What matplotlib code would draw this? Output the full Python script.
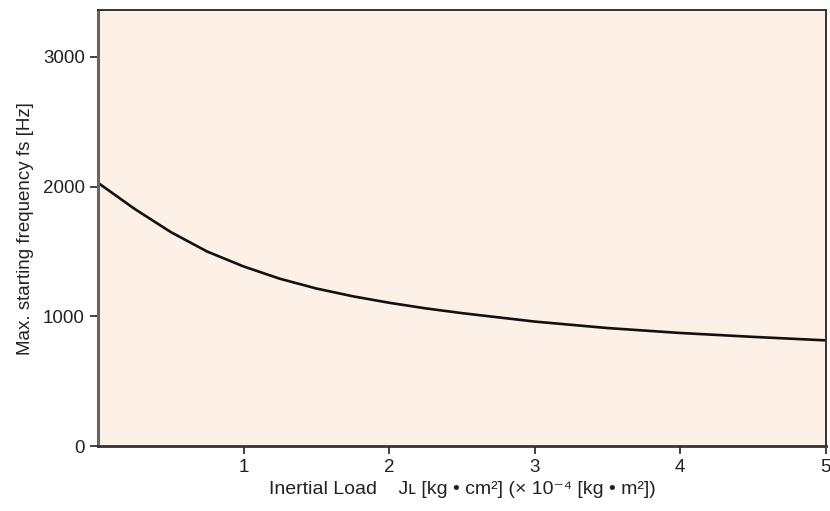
import matplotlib.pyplot as plt
from matplotlib import font_manager

# inertial load [kg cm2] vs max starting frequency [Hz]
load = [0, 0.25, 0.5, 0.75, 1.0, 1.25, 1.5, 1.75, 2.0, 2.25, 2.5, 3.0, 3.5, 4.0, 4.5, 5.0]
freq = [2030, 1830, 1650, 1500, 1385, 1290, 1215, 1155, 1105, 1062, 1025, 960, 910, 872, 842, 815]

xticks = [1, 2, 3, 4, 5]
yticks = [0, 1000, 2000, 3000]

names = set(f.name for f in font_manager.fontManager.ttflist)
main_font = 'Liberation Sans Narrow' if 'Liberation Sans Narrow' in names else 'Liberation Sans'
plt.rcParams['font.family'] = [main_font, 'DejaVu Sans']

fig = plt.figure(figsize=(8.3, 5.11), dpi=100)
ax = fig.add_axes([0.118, 0.127, 0.877, 0.853])
ax.set_facecolor('#fdf0e6')

ax.plot(load, freq, color='#111111', linewidth=1.9, solid_joinstyle='round')

ax.set_xlim(0, 5)
ax.set_ylim(0, 3360)
ax.set_xticks(xticks)
ax.set_yticks(yticks)
ax.tick_params(axis='both', direction='out', length=6, width=1.2, labelsize=13.5, colors='#222222')
ax.tick_params(axis='x', pad=3)

for s in ax.spines.values():
    s.set_linewidth(1.4)
    s.set_color('#333333')
ax.spines['left'].set_color('#666666')
ax.spines['left'].set_linewidth(2.2)
ax.spines['bottom'].set_linewidth(2.0)

ax.set_ylabel('Max. starting frequency fs [Hz]', fontsize=13.5, color='#222222', labelpad=6)
ax.set_xlabel('Inertial Load    Jʟ [kg • cm²] (× 10⁻⁴ [kg • m²])',
              fontsize=14, color='#222222', labelpad=4)

fig.savefig('out.png', dpi=100)
